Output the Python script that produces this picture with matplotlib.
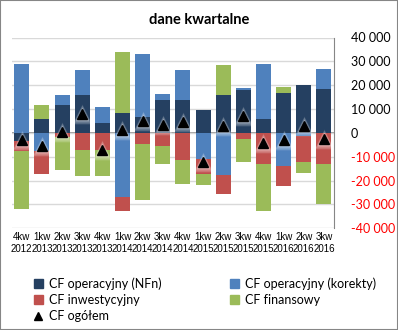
import numpy as np
import matplotlib.pyplot as plt
from matplotlib.lines import Line2D
from matplotlib.patches import Patch, Rectangle

# quarters shown on the x axis
kwartaly = ["4kw", "1kw", "2kw", "3kw", "4kw", "1kw", "2kw", "3kw",
            "4kw", "1kw", "2kw", "3kw", "4kw", "1kw", "2kw", "3kw"]
lata = ["2012", "2013", "2013", "2013", "2013", "2014", "2014", "2014",
        "2014", "2015", "2015", "2015", "2015", "2016", "2016", "2016"]

# cash flow components (thousands)
cf_nfn = [-3500, 6000, 11900, 15700, 4300, 8500, 6600, 14000,
          13600, 9800, 16100, 17900, 6000, 16900, 19900, 18600]
cf_korekty = [28700, -7700, 3800, 10500, 6700, -26900, 26500, 2500,
              12600, -10900, -17800, 1100, 22700, -13700, -1400, 8400]
cf_inw = [-4200, -9400, -1700, -7000, -7000, -6000, -4500, -5300,
          -11200, -6200, -7800, -2400, -12900, -8700, -10600, -12900]
cf_fin = [-24000, 5500, -13700, -11200, -11200, 25600, -23500, -7900,
          -10400, -4900, 12200, -9600, -20000, 2500, -5000, -16800]

serie = [
    ("CF operacyjny (NFn)", cf_nfn, "#254061"),
    ("CF operacyjny (korekty)", cf_korekty, "#4F81BD"),
    ("CF inwestycyjny", cf_inw, "#C0504D"),
    ("CF finansowy", cf_fin, "#9BBB59"),
]

W, H = 398, 330
fig = plt.figure(figsize=(W / 100, H / 100), dpi=100)
fig.patch.set_facecolor("white")
fig.patches.append(Rectangle((0, 0), 1, 1, transform=fig.transFigure,
                             fill=False, edgecolor="#868686", linewidth=1.5))

ax = fig.add_axes([11.7 / W, 1 - 228.3 / H, (334 - 11.7) / W, (228.3 - 37.5) / H])

x = np.arange(len(kwartaly))
pos_base = np.zeros(len(x))
neg_base = np.zeros(len(x))
for nazwa, vals, kolor in serie:
    v = np.array(vals, dtype=float)
    base = np.where(v >= 0, pos_base, neg_base)
    ax.bar(x, v, bottom=base, width=0.75, color=kolor, zorder=2)
    pos_base += np.where(v >= 0, v, 0)
    neg_base += np.where(v < 0, v, 0)

ogolem = np.sum([np.array(s[1]) for s in serie], axis=0)
# soft glow behind the total markers
for ms, a in [(15, 0.12), (12.5, 0.2), (10, 0.3)]:
    ax.plot(x, ogolem, "^", ms=ms, color="white", alpha=a, mec="none",
            ls="none", zorder=3)
ax.plot(x, ogolem, "^", ms=6.8, color="black", ls="none", zorder=4)

ax.set_xlim(-0.5, len(x) - 0.5)
ax.set_ylim(-40000, 40000)
ax.set_yticks(np.arange(-40000, 40001, 10000))
ax.yaxis.tick_right()
ax.tick_params(axis="y", length=0, pad=12)
ax.tick_params(axis="x", length=0, pad=3)
ax.set_yticklabels([f"{v:,}".replace(",", " ") for v in range(-40000, 40001, 10000)],
                   fontsize=9, family="Lato")
for lab, v in zip(ax.get_yticklabels(), range(-40000, 40001, 10000)):
    lab.set_color("red" if v < 0 else "black")
ax.set_xticks(x)
ax.set_xticklabels([f"{k}\n{r}" for k, r in zip(kwartaly, lata)],
                   fontsize=7, family="Liberation Sans", linespacing=1.25)
ax.grid(axis="y", color="#D9D9D9", lw=1, zorder=0)
ax.axhline(0, color="#868686", lw=1.2, zorder=1)
for s in ["top", "left", "bottom"]:
    ax.spines[s].set_visible(False)
ax.spines["right"].set_color("#868686")

fig.text(199.5 / W, 1 - 20 / H, "dane kwartalne", ha="center", va="center",
         fontsize=10.5, fontweight="bold", family="Lato")

uchwyty = [Patch(color=serie[0][2]), Patch(color=serie[2][2]),
           Line2D([], [], marker="^", color="black", ls="none", ms=6),
           Patch(color=serie[1][2]), Patch(color=serie[3][2])]
etykiety = [serie[0][0], serie[2][0], "CF ogółem", serie[1][0], serie[3][0]]
fig.legend(uchwyty, etykiety, ncol=2, loc="upper left",
           bbox_to_anchor=(29 / W, 1 - 272 / H), frameon=False,
           prop={"family": "Lato", "size": 9}, handlelength=0.7,
           handleheight=0.7, handletextpad=0.5, columnspacing=5.5,
           labelspacing=0.35, borderaxespad=0)

fig.savefig("out.png", dpi=100)
